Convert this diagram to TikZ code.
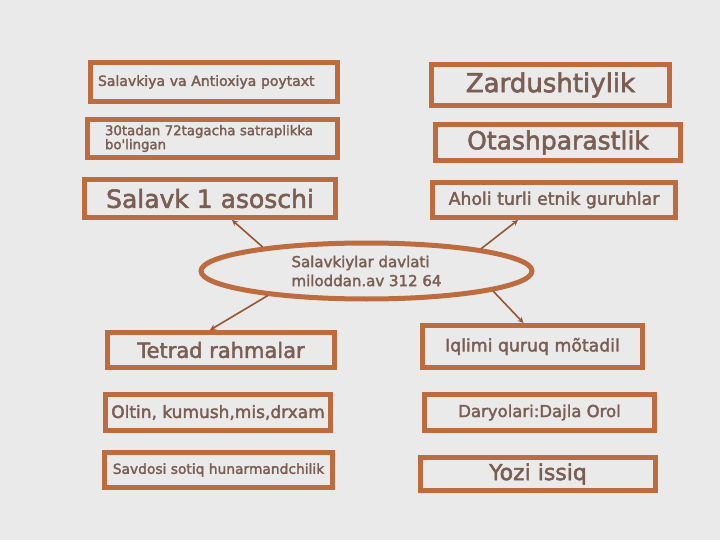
\documentclass[tikz,border=0pt]{standalone}
\usepackage{fontspec}
\setmainfont{DejaVu Sans}
\newfontfamily\boxfont{DejaVu Sans}[FakeBold=2.2]
\usetikzlibrary{shapes.geometric}
\definecolor{bord}{RGB}{188,108,62}
\definecolor{ink}{RGB}{122,94,82}
\definecolor{paper}{RGB}{234,234,234}

\begin{document}
\begin{tikzpicture}[x=1pt,y=-1pt,
  box/.style={draw=bord, line width=5pt, rectangle, inner sep=0pt, text=ink, align=center},
  oval/.style={draw=bord, line width=5pt, ellipse, inner sep=0pt, text=ink, align=left},
  link/.style={draw=bord!80!black, line width=1.6pt, ->, >=stealth}]

\fill[paper] (0,0) rectangle (720,540);

\node[oval, minimum width=331pt, minimum height=56pt,
  font=\boxfont\fontsize{15}{19}\selectfont] (davlat) at (366.5,271)
  {Salavkiylar davlati\\miloddan.av 312 64};

\node[box, minimum width=247pt, minimum height=39pt, text width=232pt, align=left,
  font=\boxfont\fontsize{14}{16}\selectfont] (poytaxt) at (214,82) {Salavkiya va Antioxiya poytaxt};
\node[box, minimum width=250pt, minimum height=38pt, text width=215pt, align=left,
  font=\boxfont\fontsize{13.3}{14}\selectfont] (satrap) at (212.5,138.5) {30tadan 72tagacha satraplikka\\bo'lingan};
\node[box, minimum width=251pt, minimum height=38pt,
  font=\boxfont\fontsize{25}{28}\selectfont] (asoschi) at (210,198.5) {Salavk 1 asoschi};

\node[box, minimum width=238pt, minimum height=41pt,
  font=\boxfont\fontsize{26}{28}\selectfont] (zardusht) at (550.5,85) {Zardushtiylik};
\node[box, minimum width=245pt, minimum height=36pt,
  font=\boxfont\fontsize{25}{28}\selectfont] (otash) at (558,142.5) {Otashparastlik};
\node[box, minimum width=243pt, minimum height=35pt,
  font=\boxfont\fontsize{17.3}{20}\selectfont] (etnik) at (554,200) {Aholi turli etnik guruhlar};

\node[box, minimum width=227pt, minimum height=35pt,
  font=\boxfont\fontsize{21}{24}\selectfont] (tetrad) at (221,350) {Tetrad rahmalar};
\node[box, minimum width=225pt, minimum height=36pt,
  font=\boxfont\fontsize{17}{20}\selectfont] (oltin) at (218,412.5) {Oltin, kumush,mis,drxam};
\node[box, minimum width=228pt, minimum height=35pt,
  font=\boxfont\fontsize{13.8}{16}\selectfont] (savdo) at (218.5,470) {Savdosi sotiq hunarmandchilik};

\node[box, minimum width=220pt, minimum height=42pt,
  font=\boxfont\fontsize{17.3}{20}\selectfont] (iqlim) at (532.5,346.5) {Iqlimi quruq mõtadil};
\node[box, minimum width=230pt, minimum height=36pt,
  font=\boxfont\fontsize{16.5}{19}\selectfont] (daryo) at (539.5,412.5) {Daryolari:Dajla Orol};
\node[box, minimum width=235pt, minimum height=33pt,
  font=\boxfont\fontsize{22}{24}\selectfont] (yoz) at (538,474) {Yozi issiq};

\draw[link] (davlat.167) -- ([xshift=22pt]asoschi.south);
\draw[link] (davlat.11) -- ([xshift=-36pt]etnik.south);
\draw[link] (davlat.-166) -- ([xshift=-11pt]tetrad.north);
\draw[link] (davlat.-9) -- ([xshift=-9pt]iqlim.north);
\end{tikzpicture}
\end{document}
